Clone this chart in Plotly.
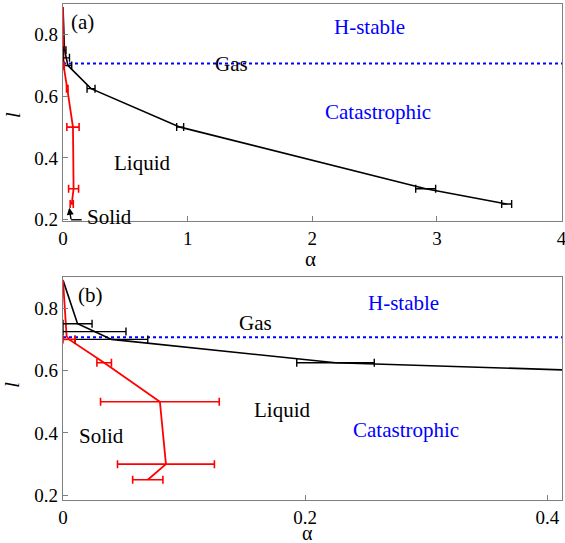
import plotly.graph_objects as go

# ---- data (same phase boundaries shown in both panels) ----
alpha_black = [0.0, 0.012, 0.026, 0.040, 0.225, 0.94, 2.91, 3.56]
l_black = [0.89, 0.75, 0.725, 0.70, 0.625, 0.50, 0.30, 0.25]
err_black = [0.0, 0.012, 0.026, 0.030, 0.032, 0.028, 0.080, 0.040]

alpha_red = [0.0, 0.003, 0.005, 0.034, 0.080, 0.085, 0.070]
l_red = [0.89, 0.71, 0.70, 0.625, 0.50, 0.30, 0.25]
err_red = [0.0, 0.0, 0.005, 0.006, 0.049, 0.040, 0.0125]

l_threshold = 0.707

x_ticks_a = [0, 1, 2, 3, 4]
x_ticks_b = [0, 0.2, 0.4]
y_ticks = [0.2, 0.4, 0.6, 0.8]

FONT = "Liberation Serif, Times New Roman, serif"
BLUE = "#0000ff"

fig = go.Figure()


def add_panel(xa, ya):
    fig.add_trace(go.Scatter(x=alpha_black, y=l_black, mode="lines",
                             line=dict(color="black", width=1.6),
                             xaxis=xa, yaxis=ya, showlegend=False, hoverinfo="skip"))
    fig.add_trace(go.Scatter(x=alpha_red, y=l_red, mode="lines",
                             line=dict(color="#ff0000", width=1.8),
                             xaxis=xa, yaxis=ya, showlegend=False, hoverinfo="skip"))
    bx = [a for a, e in zip(alpha_black, err_black) if e > 0]
    by = [l for l, e in zip(l_black, err_black) if e > 0]
    be = [e for e in err_black if e > 0]
    fig.add_trace(go.Scatter(x=bx, y=by, mode="markers", marker=dict(size=1, color="black", opacity=0),
                             error_x=dict(type="data", array=be, color="black", thickness=1.4, width=4),
                             xaxis=xa, yaxis=ya, showlegend=False, hoverinfo="skip"))
    rx = [a for a, e in zip(alpha_red, err_red) if e > 0]
    ry = [l for l, e in zip(l_red, err_red) if e > 0]
    re = [e for e in err_red if e > 0]
    fig.add_trace(go.Scatter(x=rx, y=ry, mode="markers", marker=dict(size=1, color="#ff0000", opacity=0),
                             error_x=dict(type="data", array=re, color="#ff0000", thickness=1.6, width=4),
                             xaxis=xa, yaxis=ya, showlegend=False, hoverinfo="skip"))
    fig.add_shape(type="line", xref=f"{xa} domain", yref=ya, x0=0, x1=1,
                  y0=l_threshold, y1=l_threshold,
                  line=dict(color=BLUE, width=2, dash="dot"), layer="below")


add_panel("x", "y")
add_panel("x2", "y2")

axis_common = dict(showgrid=False, zeroline=False, showline=True, mirror=True,
                   linecolor="#7f7f7f", linewidth=1.2, ticks="inside", ticklen=5,
                   tickcolor="#7f7f7f", ticklabeloverflow="allow",
                   tickfont=dict(family=FONT, size=19, color="black"))

fig.update_layout(
    width=565, height=543,
    margin=dict(l=63, r=3, t=4, b=43, autoexpand=False),
    paper_bgcolor="white", plot_bgcolor="white",
    xaxis=dict(domain=[0, 1], range=[0, 4.004], tickvals=x_ticks_a, anchor="y", **axis_common),
    yaxis=dict(domain=[0.5625, 1], range=[0.195, 0.9], tickvals=y_ticks, anchor="x", **axis_common),
    xaxis2=dict(domain=[0, 1], range=[0, 0.412], tickvals=x_ticks_b, ticktext=["0", "0.2", "0.4"],
                anchor="y2", **axis_common),
    yaxis2=dict(domain=[0, 0.4496], range=[0.185, 0.9], tickvals=y_ticks, anchor="x2", **axis_common),
)

def txt(x, y, s, xref, yref, color="black", size=21, **kw):
    fig.add_annotation(x=x, y=y, text=s, xref=xref, yref=yref, showarrow=False,
                       xanchor="center", yanchor="middle",
                       font=dict(family=FONT, size=size, color=color), **kw)

# panel (a) texts
txt(0.16, 0.842, "(a)", "x", "y")
txt(2.46, 0.825, "H-stable", "x", "y", color=BLUE)
txt(1.355, 0.705, "Gas", "x", "y")
txt(2.53, 0.549, "Catastrophic", "x", "y", color=BLUE)
txt(0.633, 0.383, "Liquid", "x", "y")
txt(0.37, 0.208, "Solid", "x", "y")
fig.add_annotation(x=0.05, y=0.238, xref="x", yref="y", text="", showarrow=True,
                   ax=2, ay=13, arrowhead=2, arrowsize=1, arrowwidth=1.4, arrowcolor="black")
fig.add_shape(type="line", xref="x", yref="y", x0=0.065, x1=0.15, y0=0.199, y1=0.199,
              line=dict(color="black", width=1.4))

# panel (b) texts
txt(0.023, 0.842, "(b)", "x2", "y2")
txt(0.281, 0.817, "H-stable", "x2", "y2", color=BLUE)
txt(0.159, 0.753, "Gas", "x2", "y2")
txt(0.181, 0.474, "Liquid", "x2", "y2")
txt(0.283, 0.409, "Catastrophic", "x2", "y2", color=BLUE)
txt(0.032, 0.39, "Solid", "x2", "y2")

# axis titles
txt(0.495, 0.486, "α", "paper", "paper", size=21)
txt(0.489, -0.066, "α", "paper", "paper", size=20)
txt(-0.102, 0.776, "<i>l</i>", "paper", "paper", size=22, textangle=-90)
txt(-0.102, 0.232, "<i>l</i>", "paper", "paper", size=22, textangle=-90)

fig.write_html("out.html")
